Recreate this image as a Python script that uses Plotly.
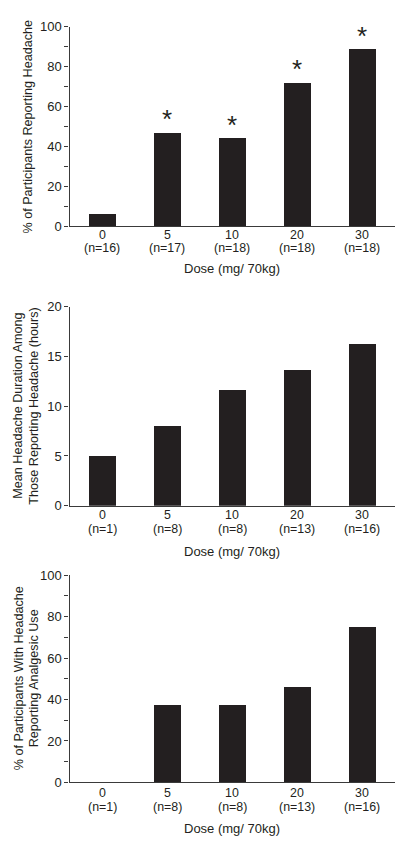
import plotly.graph_objects as go

doses = ["0", "5", "10", "20", "30"]
n_all = [16, 17, 18, 18, 18]
n_head = [1, 8, 8, 13, 16]
pct_headache = [6.25, 47.1, 44.4, 72.2, 88.9]
sig_headache = [False, True, True, True, True]
duration_hours = [5.0, 8.0, 11.65, 13.7, 16.3]
pct_analgesic = [0.0, 37.5, 37.5, 46.2, 75.0]

W, H = 406, 853
FONT = "Liberation Sans, Arial, sans-serif"
TXT = "#231f20"
BAR = "#231f20"
AX = "#3a3a3a"
FS = 13
FS_CAT = 12.4

def px_y(p):
    return 1 - p / H

def px_x(p):
    return p / W

fig = go.Figure()

panels = [
    dict(vals=pct_headache, ns=n_all, top=20, bot=223.3, rng=[0, 100], dtick=10,
         labels=[0, 20, 40, 60, 80, 100], ytitle=["% of Participants Reporting Headache"],
         ytx=[28], dose_y=231.6, n_y=245.8, xtitle_y=266),
    dict(vals=duration_hours, ns=n_head, top=305, bot=507.7, rng=[0, 20], dtick=5,
         labels=[0, 5, 10, 15, 20], ytitle=["Mean Headache Duration Among", "Those Reporting Headache (hours)"],
         ytx=[18.5, 34.5], dose_y=517.6, n_y=531.8, xtitle_y=554),
    dict(vals=pct_analgesic, ns=n_head, top=578.3, bot=789.3, rng=[0, 100], dtick=10,
         labels=[0, 20, 40, 60, 80, 100], ytitle=["% of Participants With Headache", "Reporting Analgesic Use"],
         ytx=[18.5, 33.5], dose_y=799.8, n_y=814, xtitle_y=836),
]

x_left, x_right = 69.5, 394.5
annotations = []
for i, p in enumerate(panels):
    k = "" if i == 0 else str(i + 1)
    xs = list(range(len(doses)))
    fig.add_trace(go.Bar(
        x=xs, y=p["vals"], width=0.42,
        marker=dict(color=BAR, line=dict(width=0)),
        xaxis="x" + k, yaxis="y" + k, showlegend=False, hoverinfo="skip",
    ))
    fig.layout["xaxis" + k] = dict(
        domain=[px_x(x_left), px_x(x_right)], anchor="y" + k, range=[-0.5, 4.5],
        showticklabels=False, ticks="", showline=True, linecolor=AX, linewidth=1.3,
        showgrid=False, zeroline=False, fixedrange=True,
    )
    tickvals = [v for v in range(p["rng"][0], p["rng"][1] + 1, p["dtick"])]
    ticktxt = [str(v) if v in p["labels"] else "" for v in tickvals]
    fig.layout["yaxis" + k] = dict(
        domain=[px_y(p["bot"]), px_y(p["top"])], anchor="x" + k, range=p["rng"],
        tickmode="array", tickvals=tickvals, ticktext=ticktxt,
        ticks="outside", ticklen=4, tickwidth=1.2, tickcolor=AX,
        showline=True, linecolor=AX, linewidth=1.3, showgrid=False, zeroline=False,
        tickfont=dict(family=FONT, size=FS, color=TXT), fixedrange=True,
    )
    # category labels: dose and group size
    for xv, d, n in zip(xs, doses, p["ns"]):
        annotations.append(dict(
            text=d, x=xv, xref="x" + k, yref="paper", y=px_y(p["dose_y"]),
            showarrow=False, xanchor="center", yanchor="middle",
            font=dict(family=FONT, size=FS_CAT, color=TXT),
        ))
        annotations.append(dict(
            text=f"(n={n})", x=xv, xref="x" + k, yref="paper", y=px_y(p["n_y"]),
            showarrow=False, xanchor="center", yanchor="middle",
            font=dict(family=FONT, size=FS_CAT, color=TXT),
        ))
    for line, xc in zip(p["ytitle"], p["ytx"]):
        annotations.append(dict(
            text=line, xref="paper", yref="paper", x=px_x(xc),
            y=px_y((p["top"] + p["bot"]) / 2), textangle=-90, showarrow=False,
            xanchor="center", yanchor="middle", font=dict(family=FONT, size=12.6, color=TXT),
        ))
    annotations.append(dict(
        text="Dose (mg/ 70kg)", xref="paper", yref="paper", x=px_x(232),
        y=px_y(p["xtitle_y"]), showarrow=False, xanchor="center", yanchor="middle",
        font=dict(family=FONT, size=FS, color=TXT),
    ))

for j, (v, s) in enumerate(zip(pct_headache, sig_headache)):
    if s:
        annotations.append(dict(
            text="*", x=j, y=v, xref="x", yref="y", showarrow=False,
            xanchor="center", yanchor="middle", yshift=13,
            font=dict(family=FONT, size=26, color=TXT),
        ))

fig.update_layout(
    width=W, height=H, margin=dict(l=0, r=0, t=0, b=0),
    paper_bgcolor="white", plot_bgcolor="white",
    annotations=annotations, bargap=0,
)

fig.write_html(
    "out.html",
    config={"displayModeBar": False},
    post_script="document.body.style.margin='0';document.body.style.padding='0';"
                "document.documentElement.style.overflow='hidden';",
)
